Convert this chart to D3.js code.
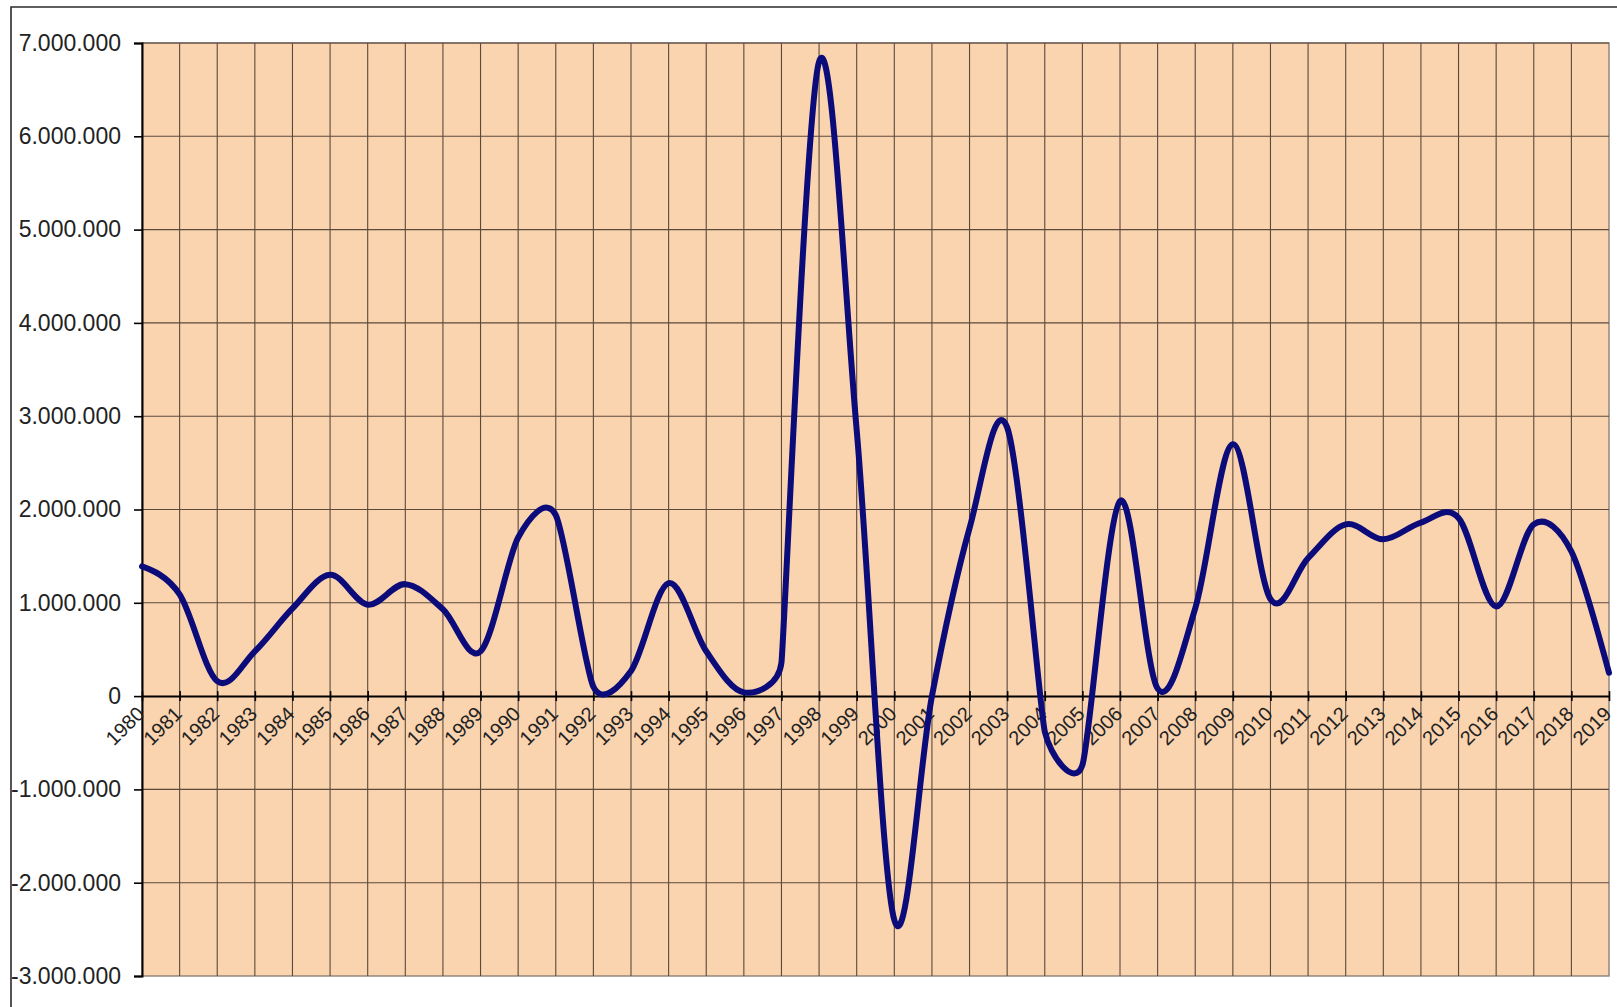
<!DOCTYPE html>
<html>
<head>
<meta charset="utf-8">
<script src="https://cdn.jsdelivr.net/npm/d3@7"></script>
<style>
  html, body { margin: 0; padding: 0; background: #ffffff; }
  svg { display: block; }
</style>
</head>
<body>
<svg id="chart" width="1617" height="1007"></svg>
<script>
// ---- data ----
const years = d3.range(1980, 2020);
const values = [
  1390000, 1090000, 160000, 480000, 940000, 1300000, 980000, 1200000, 930000, 480000,
  1700000, 1940000, 100000, 270000, 1210000, 480000, 40000, 360000, 6800000, 2850000,
  -2400000, 0, 1800000, 2880000, -380000, -740000, 2090000, 80000, 940000, 2700000,
  1040000, 1480000, 1840000, 1680000, 1860000, 1910000, 960000, 1840000, 1550000, 250000
];
const yTicks = [-3000000, -2000000, -1000000, 0, 1000000, 2000000, 3000000, 4000000, 5000000, 6000000, 7000000];

// ---- layout ----
const W = 1617, H = 1007;
const plotL = 142, plotR = 1609, plotT = 43, plotB = 976;

const svg = d3.select("#chart");

// outer frame
svg.append("path")
  .attr("d", `M11,${H + 5} L11,7 L${W + 5},7`)
  .attr("fill", "none").attr("stroke", "#2b2b2b").attr("stroke-width", 1.6);

const x = d3.scaleLinear().domain([1980, 2019]).range([plotL, plotR]);
const y = d3.scaleLinear().domain([-3000000, 7000000]).range([plotB, plotT]);

// plot background
svg.append("rect")
  .attr("x", plotL).attr("y", plotT)
  .attr("width", plotR - plotL).attr("height", plotB - plotT)
  .attr("fill", "#fad3af")
  .attr("stroke", "#8a8078").attr("stroke-width", 1.4);

// horizontal gridlines
svg.append("g").selectAll("line").data(yTicks.filter(d => d !== 0 && d !== -3000000)).join("line")
  .attr("x1", plotL).attr("x2", plotR)
  .attr("y1", d => y(d)).attr("y2", d => y(d))
  .attr("stroke", "#5b4a3c").attr("stroke-width", 1.1);

// vertical gridlines
svg.append("g").selectAll("line").data(years.slice(1, -1)).join("line")
  .attr("x1", d => x(d)).attr("x2", d => x(d))
  .attr("y1", plotT).attr("y2", plotB)
  .attr("stroke", "#5b4a3c").attr("stroke-width", 1.1);

// y axis
const yAxis = d3.axisLeft(y).tickValues(yTicks).tickSize(8).tickPadding(13)
  .tickFormat(d => d3.format(",")(d).replace(/,/g, ".").replace("−", "-"));
const gy = svg.append("g").attr("transform", `translate(${plotL},0)`).call(yAxis);
gy.select(".domain").attr("stroke", "#000").attr("stroke-width", 2);
gy.selectAll(".tick line").attr("stroke", "#000").attr("stroke-width", 1.6);
gy.selectAll(".tick text")
  .attr("font-family", "Liberation Sans, Arial, sans-serif")
  .attr("font-size", 23).attr("fill", "#222");

// zero axis (x axis)
const y0 = y(0);
const xAxis = d3.axisBottom(x).tickValues(years).tickSize(0).tickFormat(d => d);
const gx = svg.append("g").attr("transform", `translate(0,${y0})`).call(xAxis);
gx.select(".domain").attr("stroke", "#000").attr("stroke-width", 2);
gx.selectAll(".tick").append("line")
  .attr("y1", -5).attr("y2", 5).attr("stroke", "#000").attr("stroke-width", 1.6);
gx.selectAll(".tick text")
  .attr("font-family", "Liberation Sans, Arial, sans-serif")
  .attr("font-size", 20).attr("fill", "#222")
  .attr("text-anchor", "end")
  .attr("dy", 0)
  .attr("y", 0)
  .attr("transform", "translate(3,19) rotate(-45)");

// Excel-like smoothed line: Bezier with tangent parallel to neighbours' chord,
// control length 1/6 of chord, limited by half of the adjacent segments.
function smoothPath(pts) {
  const n = pts.length;
  const dist = (a, b) => Math.hypot(b[0] - a[0], b[1] - a[1]);
  const tan = pts.map((p, i) => {
    if (i === 0 || i === n - 1) return [0, 0];
    const a = pts[i - 1], b = pts[i + 1];
    const d02 = dist(a, b), d01 = dist(a, p), d12 = dist(p, b);
    let s = 1 / 6;
    if (d02 > 0) s = Math.min(s, d01 / (2 * d02), d12 / (2 * d02));
    return [(b[0] - a[0]) * s, (b[1] - a[1]) * s];
  });
  const p = d3.path();
  p.moveTo(pts[0][0], pts[0][1]);
  for (let i = 0; i < n - 1; i++) {
    const a = pts[i], b = pts[i + 1];
    let c1, c2;
    if (i === 0) {
      const cb = [b[0] - tan[1][0], b[1] - tan[1][1]];
      c1 = [a[0] + (cb[0] - a[0]) / 3, a[1] + (cb[1] - a[1]) / 3];
    } else c1 = [a[0] + tan[i][0], a[1] + tan[i][1]];
    if (i + 1 === n - 1) {
      const ca = [a[0] + tan[i][0], a[1] + tan[i][1]];
      c2 = [b[0] + (ca[0] - b[0]) / 3, b[1] + (ca[1] - b[1]) / 3];
    } else c2 = [b[0] - tan[i + 1][0], b[1] - tan[i + 1][1]];
    p.bezierCurveTo(c1[0], c1[1], c2[0], c2[1], b[0], b[1]);
  }
  return p.toString();
}

const pts = values.map((v, i) => [x(years[i]), y(v)]);
svg.append("path")
  .attr("d", smoothPath(pts))
  .attr("fill", "none")
  .attr("stroke", "#0b0b7a")
  .attr("stroke-width", 6)
  .attr("stroke-linejoin", "round")
  .attr("stroke-linecap", "round");
</script>
</body>
</html>
